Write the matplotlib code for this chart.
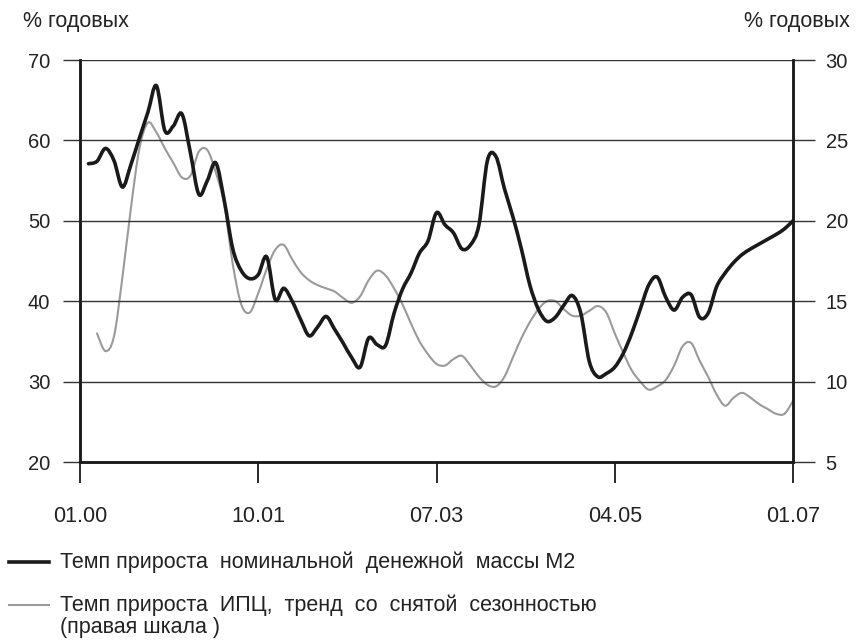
import numpy as np
import matplotlib
matplotlib.use("Agg")
import matplotlib.pyplot as plt
from matplotlib.path import Path
from matplotlib.patches import PathPatch
from matplotlib.lines import Line2D

plt.rcParams['font.family'] = ['Liberation Sans', 'DejaVu Sans']

# month index 0 = 01.00, 84 = 01.07
tick_months = [0, 21, 42, 63, 84]
tick_labels = ['01.00', '10.01', '07.03', '04.05', '01.07']

# M2 growth, % per year (left scale), months 1..84
m2_growth = [57.1, 57.4, 59.0, 57.5, 54.2, 57.0, 60.3, 63.5, 66.8, 61.2,
             61.8, 63.3, 58.5, 53.3, 55.0, 57.2, 52.5, 46.5, 43.8, 42.8,
             43.3, 45.5, 40.2, 41.6, 40.0, 37.7, 35.7, 36.8, 38.1, 36.5,
             34.8, 33.0, 31.8, 35.4, 34.6, 34.5, 38.5, 41.5, 43.5, 46.0,
             47.5, 51.0, 49.5, 48.5, 46.5, 47.0, 49.5, 57.5, 58.0, 54.0,
             50.5, 46.5, 42.0, 39.0, 37.5, 38.0, 39.5, 40.7, 38.5, 32.5,
             30.6, 31.0, 31.8, 33.5, 36.0, 39.0, 42.0, 43.0, 40.5, 38.9,
             40.5, 40.8, 38.0, 38.5, 41.8, 43.5, 44.8, 45.8, 46.5, 47.1,
             47.7, 48.3, 49.0, 50.0]

# CPI growth trend, seasonally adjusted (right scale), months 2..84
cpi_trend = [13.0, 11.9, 12.8, 16.5, 20.8, 24.5, 26.1, 25.5, 24.5,
             23.6, 22.7, 22.8, 24.3, 24.4, 23.0, 21.0, 17.3, 14.8, 14.3,
             15.5, 17.0, 18.2, 18.5, 17.6, 16.8, 16.3, 16.0, 15.8, 15.6,
             15.2, 14.9, 15.3, 16.3, 16.9, 16.6, 15.8, 14.8, 13.6, 12.5,
             11.7, 11.1, 11.0, 11.4, 11.6, 11.0, 10.3, 9.8, 9.7, 10.3,
             11.5, 12.7, 13.7, 14.5, 15.0, 15.0, 14.5, 14.1, 14.1, 14.4,
             14.7, 14.3, 13.0, 11.8, 10.7, 10.0, 9.5, 9.7, 10.1, 11.0,
             12.2, 12.4, 11.3, 10.3, 9.2, 8.5, 9.0, 9.3, 9.0, 8.6,
             8.3, 8.0, 8.0, 8.8]

m2_months = np.arange(1, 1 + len(m2_growth))
cpi_months = np.arange(2, 2 + len(cpi_trend))


def smooth_path(x, y):
    # excel-like smoothed line through the monthly points
    pts = np.column_stack([x, y]).astype(float)
    ext = np.vstack([pts[0], pts, pts[-1]])
    verts = [pts[0]]
    codes = [Path.MOVETO]
    for i in range(len(pts) - 1):
        p0, p1, p2, p3 = ext[i], ext[i + 1], ext[i + 2], ext[i + 3]
        verts += [p1 + (p2 - p0) / 6, p2 - (p3 - p1) / 6, p2]
        codes += [Path.CURVE4] * 3
    return Path(verts, codes)


fig = plt.figure(figsize=(8.58, 6.43), dpi=100)
ax = fig.add_axes([80 / 858, 1 - 462 / 643, 713 / 858, 402 / 643])
ax2 = ax.twinx()

ax.set_xlim(0, 84)
ax.set_ylim(20, 70)
ax2.set_ylim(5, 30)

grid_col = '#333333'
text_col = '#222222'

for v in [30, 40, 50, 60, 70]:
    ax.axhline(v, color=grid_col, lw=1.0, zorder=1)

ax2.add_patch(PathPatch(smooth_path(cpi_months, cpi_trend), fill=False,
                        edgecolor='#9a9a9a', lw=1.5, capstyle='round'))
ax.add_patch(PathPatch(smooth_path(m2_months, m2_growth), fill=False,
                       edgecolor='#1a1a1a', lw=2.6, capstyle='round', zorder=3))

# keep the black series above the grey one
ax.set_zorder(ax2.get_zorder() + 1)
ax.patch.set_visible(False)

for a in (ax, ax2):
    a.spines['top'].set_visible(False)
    for s in ['left', 'right', 'bottom']:
        a.spines[s].set_linewidth(1.8)
        a.spines[s].set_color('#1a1a1a')

ax.set_xticks(tick_months)
ax.set_xticklabels(tick_labels)
ax.set_yticks([20, 30, 40, 50, 60, 70])
ax2.set_yticks([5, 10, 15, 20, 25, 30])

ax.tick_params(axis='x', direction='out', length=15, width=1.3, color='#1a1a1a',
               pad=17, labelsize=15.5, labelcolor=text_col)
ax.tick_params(axis='y', direction='out', length=12.5, width=1.0, color=grid_col,
               pad=9, labelsize=14.5, labelcolor=text_col)
ax2.tick_params(axis='y', direction='out', length=15.5, width=1.0, color=grid_col,
                pad=8, labelsize=14.5, labelcolor=text_col)

fig.text(23 / 858, 1 - 21 / 643, '% годовых', fontsize=15.5, color=text_col,
         ha='left', va='center')
fig.text(850 / 858, 1 - 21 / 643, '% годовых', fontsize=15.5, color=text_col,
         ha='right', va='center')

# legend below the plot
fig.add_artist(Line2D([9 / 858, 49 / 858], [1 - 562 / 643] * 2,
                      transform=fig.transFigure, color='#1a1a1a', lw=2.6))
fig.add_artist(Line2D([9 / 858, 49 / 858], [1 - 605 / 643] * 2,
                      transform=fig.transFigure, color='#9a9a9a', lw=1.5))
fig.text(60 / 858, 1 - 562 / 643, 'Темп прироста  номинальной  денежной  массы М2',
         fontsize=15.5, color=text_col, ha='left', va='center')
fig.text(60 / 858, 1 - 605 / 643, 'Темп прироста  ИПЦ,  тренд  со  снятой  сезонностью',
         fontsize=15.5, color=text_col, ha='left', va='center')
fig.text(60 / 858, 1 - 627 / 643, '(правая шкала )',
         fontsize=15.5, color=text_col, ha='left', va='center')

fig.savefig('out.png', dpi=100)
